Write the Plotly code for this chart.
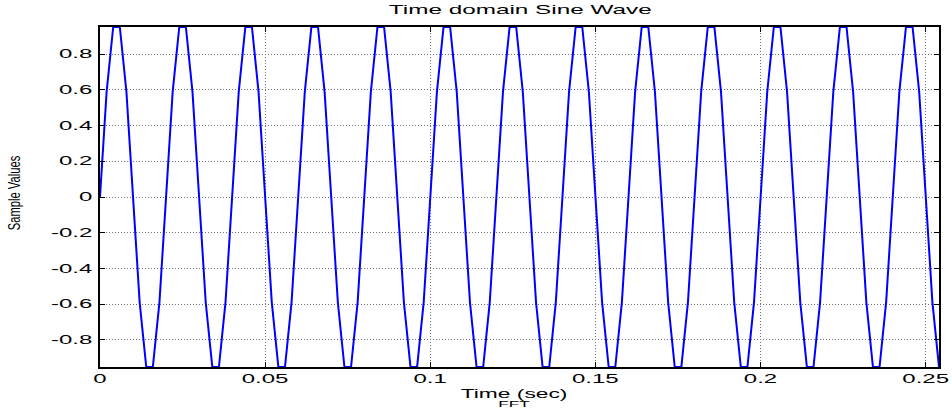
import plotly.graph_objects as go

# Sample times (s) - 128 samples at 500 Hz
time_s = [
    0.000, 0.002, 0.004, 0.006, 0.008, 0.010, 0.012, 0.014, 0.016, 0.018,
    0.020, 0.022, 0.024, 0.026, 0.028, 0.030, 0.032, 0.034, 0.036, 0.038,
    0.040, 0.042, 0.044, 0.046, 0.048, 0.050, 0.052, 0.054, 0.056, 0.058,
    0.060, 0.062, 0.064, 0.066, 0.068, 0.070, 0.072, 0.074, 0.076, 0.078,
    0.080, 0.082, 0.084, 0.086, 0.088, 0.090, 0.092, 0.094, 0.096, 0.098,
    0.100, 0.102, 0.104, 0.106, 0.108, 0.110, 0.112, 0.114, 0.116, 0.118,
    0.120, 0.122, 0.124, 0.126, 0.128, 0.130, 0.132, 0.134, 0.136, 0.138,
    0.140, 0.142, 0.144, 0.146, 0.148, 0.150, 0.152, 0.154, 0.156, 0.158,
    0.160, 0.162, 0.164, 0.166, 0.168, 0.170, 0.172, 0.174, 0.176, 0.178,
    0.180, 0.182, 0.184, 0.186, 0.188, 0.190, 0.192, 0.194, 0.196, 0.198,
    0.200, 0.202, 0.204, 0.206, 0.208, 0.210, 0.212, 0.214, 0.216, 0.218,
    0.220, 0.222, 0.224, 0.226, 0.228, 0.230, 0.232, 0.234, 0.236, 0.238,
    0.240, 0.242, 0.244, 0.246, 0.248, 0.250, 0.252, 0.254,
]

# Sample values
sample_values = [
    0, 0.588, 0.951, 0.951, 0.588, 0, -0.588, -0.951, -0.951, -0.588,
    0, 0.588, 0.951, 0.951, 0.588, 0, -0.588, -0.951, -0.951, -0.588,
    0, 0.588, 0.951, 0.951, 0.588, 0, -0.588, -0.951, -0.951, -0.588,
    0, 0.588, 0.951, 0.951, 0.588, 0, -0.588, -0.951, -0.951, -0.588,
    0, 0.588, 0.951, 0.951, 0.588, 0, -0.588, -0.951, -0.951, -0.588,
    0, 0.588, 0.951, 0.951, 0.588, 0, -0.588, -0.951, -0.951, -0.588,
    0, 0.588, 0.951, 0.951, 0.588, 0, -0.588, -0.951, -0.951, -0.588,
    0, 0.588, 0.951, 0.951, 0.588, 0, -0.588, -0.951, -0.951, -0.588,
    0, 0.588, 0.951, 0.951, 0.588, 0, -0.588, -0.951, -0.951, -0.588,
    0, 0.588, 0.951, 0.951, 0.588, 0, -0.588, -0.951, -0.951, -0.588,
    0, 0.588, 0.951, 0.951, 0.588, 0, -0.588, -0.951, -0.951, -0.588,
    0, 0.588, 0.951, 0.951, 0.588, 0, -0.588, -0.951, -0.951, -0.588,
    0, 0.588, 0.951, 0.951, 0.588, 0, -0.588, -0.951,
]

x_ticks = [0, 0.05, 0.1, 0.15, 0.2, 0.25]
x_tick_text = ["0", "0.05", "0.1", "0.15", "0.2", "0.25"]
y_ticks = [-0.8, -0.6, -0.4, -0.2, 0, 0.2, 0.4, 0.6, 0.8]
y_tick_text = ["-0.8", "-0.6", "-0.4", "-0.2", "0", "0.2", "0.4", "0.6", "0.8"]

FONT = "Liberation Sans, Arial, Helvetica, sans-serif"

fig = go.Figure()
fig.add_trace(go.Scatter(
    x=time_s, y=sample_values, mode="lines",
    line=dict(color="#0000ff", width=2),
    showlegend=False, hoverinfo="skip",
))

axis_common = dict(
    showline=True, linecolor="black", linewidth=2, mirror="ticks",
    ticks="inside", ticklen=5, tickcolor="black", tickwidth=1,
    showgrid=True, gridcolor="#707070", gridwidth=1, griddash="1px,2px",
    zeroline=False,
    tickfont=dict(family=FONT, size=12, color="black"),
)

fig.update_layout(
    width=952, height=409,
    margin=dict(l=100, r=11, t=27, b=42),
    paper_bgcolor="white", plot_bgcolor="white",
    title=dict(text="Time domain Sine Wave", x=0.5465, xanchor="center",
               y=0.978, yanchor="middle",
               font=dict(family=FONT, size=13, color="black")),
    xaxis=dict(range=[0, 0.254], tickvals=x_ticks, ticktext=x_tick_text,
               **axis_common),
    yaxis=dict(range=[-0.9511, 0.9511], tickvals=y_ticks, ticktext=y_tick_text,
               ticklabelstandoff=3, **axis_common),
    annotations=[
        dict(text="Time (sec)", xref="paper", yref="paper", x=0.4935, y=-0.054,
             xanchor="center", yanchor="top", showarrow=False,
             font=dict(family=FONT, size=12, color="black")),
        dict(text="Sample Values", xref="paper", yref="paper", x=-0.101, y=0.512,
             xanchor="center", yanchor="middle", textangle=-90, showarrow=False,
             font=dict(family=FONT, size=16, color="black")),
        dict(text="FFT", xref="paper", yref="paper", x=0.4945, y=-0.1294,
             xanchor="center", yanchor="bottom", showarrow=False,
             font=dict(family=FONT, size=9, color="black")),
    ],
)

# Horizontally stretched lettering, as in the reference rendering
post = """
var gd = document.getElementById('{plot_id}');
var conf = {'Time domain Sine Wave': [1.87, 1], 'Time (sec)': [1.9, 1],
            'FFT': [1.9, 1], 'Sample Values': [1, 0.7]};
gd.querySelectorAll('text').forEach(function(t){
  var s = (t.textContent || '').trim();
  if (!s) return;
  var sx = null, sy = 1;
  if (conf.hasOwnProperty(s)) { sx = conf[s][0]; sy = conf[s][1]; }
  else {
    var pc = (t.parentNode && t.parentNode.getAttribute('class')) || '';
    if (pc.indexOf('xtick') >= 0 || pc.indexOf('ytick') >= 0) { sx = 2.0; }
    else return;
  }
  var svg = t.ownerSVGElement;
  var r = t.getBoundingClientRect();
  var anchor = t.getAttribute('text-anchor');
  var px = (anchor === 'end' && sy === 1) ? r.right : (r.left + r.right) / 2;
  var py = (r.top + r.bottom) / 2;
  var M = t.parentNode.getScreenCTM();
  var S = svg.createSVGMatrix().translate(px, py).scaleNonUniform(sx, sy).translate(-px, -py);
  var T = M.inverse().multiply(S.multiply(M));
  var E = t.transform.baseVal.consolidate();
  var F = E ? T.multiply(E.matrix) : T;
  t.setAttribute('transform', 'matrix(' + [F.a, F.b, F.c, F.d, F.e, F.f].join(',') + ')');
});
"""

fig.write_html("out.html", post_script=post)
